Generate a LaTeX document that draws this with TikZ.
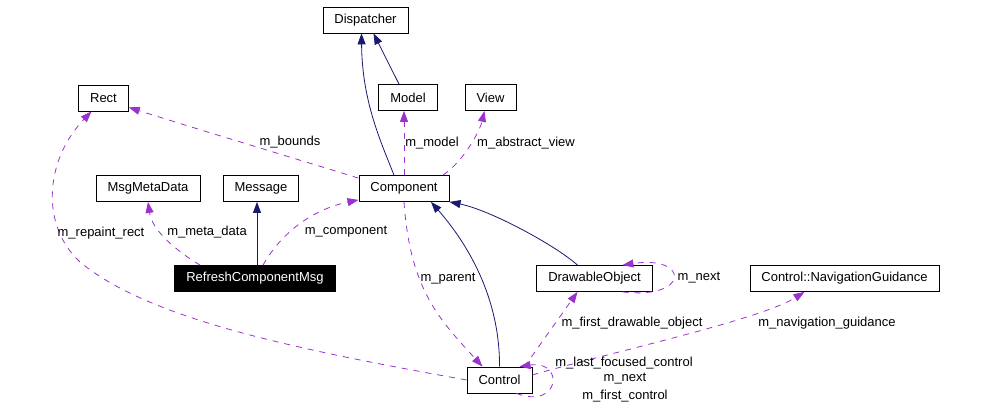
\documentclass[tikz,border=0pt]{standalone}
\usepackage{fontspec}
\setmainfont{Liberation Sans}
\usepackage{xcolor}
\definecolor{herencia}{RGB}{25,25,112}
\definecolor{miembro}{RGB}{154,50,205}
\usetikzlibrary{arrows.meta,calc,positioning}

\tikzset{
  clase/.style={draw,line width=0.8pt,fill=white,inner xsep=11.5pt,inner ysep=0pt,
    minimum height=26pt,font=\fontsize{13}{15}\selectfont},
  actual/.style={clase,fill=black,text=white},
  etiq/.style={inner sep=0pt,font=\fontsize{13}{15}\selectfont},
  inh/.style={herencia,line width=0.8pt,-{Triangle[length=11pt,width=8pt]}},
  usa/.style={miembro,line width=0.8pt,dash pattern=on 6pt off 6pt,
    -{Triangle[length=11pt,width=8pt]}},
}

\begin{document}
\begin{tikzpicture}[x=1pt,y=-1pt]
    \useasboundingbox (0,0) rectangle (993,413);
    % clases
    \node[clase] (disp) at (365.5,20) {Dispatcher};
    \node[clase] (model) at (408,97.5) {Model};
    \node[clase] (view) at (490.5,97.5) {View};
    \node[clase] (rect) at (103.5,98) {Rect};
    \node[clase] (meta) at (148,188.5) {MsgMetaData};
    \node[clase] (msg) at (261,188.5) {Message};
    \node[clase] (comp) at (404,188.5) {Component};
    \node[actual] (refresh) at (255,278.5) {RefreshComponentMsg};
    \node[clase] (drawable) at (594.5,278.5) {DrawableObject};
    \node[clase] (navguide) at (844.5,278.5) {Control::NavigationGuidance};
    \node[clase] (control) at (499.5,380) {Control};
    % herencia
    \draw[inh] ([xshift=-10pt]comp.north) .. controls (380,140) and (362,100) .. ([xshift=-4pt]disp.south);
    \draw[inh] ([xshift=-9pt]model.north) -- ([xshift=8pt]disp.south);
    \draw[inh] ([xshift=2pt]refresh.north) -- ([xshift=-4pt]msg.south);
    \draw[inh] (control.north) .. controls (500,290) and (460,235) .. ([xshift=27pt]comp.south);
    \draw[inh] ([xshift=-17pt]drawable.north) .. controls (555,245) and (490,210) .. (comp.south east);
    % miembros
    \draw[usa] ([yshift=-3pt]comp.north west) .. controls (300,160) and (200,130) .. ([yshift=4pt]rect.south east);
    \draw[usa] (comp.north) -- (model.south -| comp.north);
    \draw[usa] ([xshift=39pt]comp.north) .. controls (465,160) and (480,130) .. ([xshift=-6pt]view.south);
    \draw[usa] ([xshift=-55pt]refresh.north) .. controls (175,250) and (152,230) .. (meta.south);
    \draw[usa] ([xshift=8pt]refresh.north) .. controls (280,235) and (310,210) .. ([yshift=2pt]comp.south west);
    \draw[usa] (control.west) .. controls (300,350) and (150,320) .. (80,262)
      .. controls (40,225) and (45,160) .. ([xshift=-12pt]rect.south);
    \draw[usa] (comp.south) .. controls (410,290) and (440,320) .. ([xshift=-17pt]control.north);
    \draw[usa] ([xshift=28pt]drawable.south) .. controls (690,300) and (690,255) .. ([xshift=28pt]drawable.north);
    \draw[usa] ([xshift=25pt]control.north) -- ([xshift=-17pt]drawable.south);
    \draw[usa] ([xshift=17pt]control.south) .. controls (560,410) and (565,360) .. ([xshift=20pt]control.north);
    \draw[usa] ([yshift=5pt]control.east) .. controls (600,355) and (760,320) .. ([xshift=-40pt]navguide.south);
    % etiquetas
    \node[etiq] (lbounds) at (290,142) {m\_bounds};
    \node[etiq] (lmodel) at (432,143) {m\_model};
    \node[etiq] (lview) at (526,143) {m\_abstract\_view};
    \node[etiq] (lrepaint) at (101,233) {m\_repaint\_rect};
    \node[etiq] (lmeta) at (207,232) {m\_meta\_data};
    \node[etiq] (lcomp) at (346,232) {m\_component};
    \node[etiq] (lparent) at (448,279) {m\_parent};
    \node[etiq] (lnextd) at (699,278) {m\_next};
    \node[etiq] (lfirstd) at (632,323) {m\_first\_drawable\_object};
    \node[etiq] (lnav) at (827,323) {m\_navigation\_guidance};
    \node[etiq] (llast) at (624,363) {m\_last\_focused\_control};
    \node[etiq] (lnextc) at (625,379) {m\_next};
    \node[etiq] (lfirstc) at (625,396) {m\_first\_control};
\end{tikzpicture}
\end{document}
